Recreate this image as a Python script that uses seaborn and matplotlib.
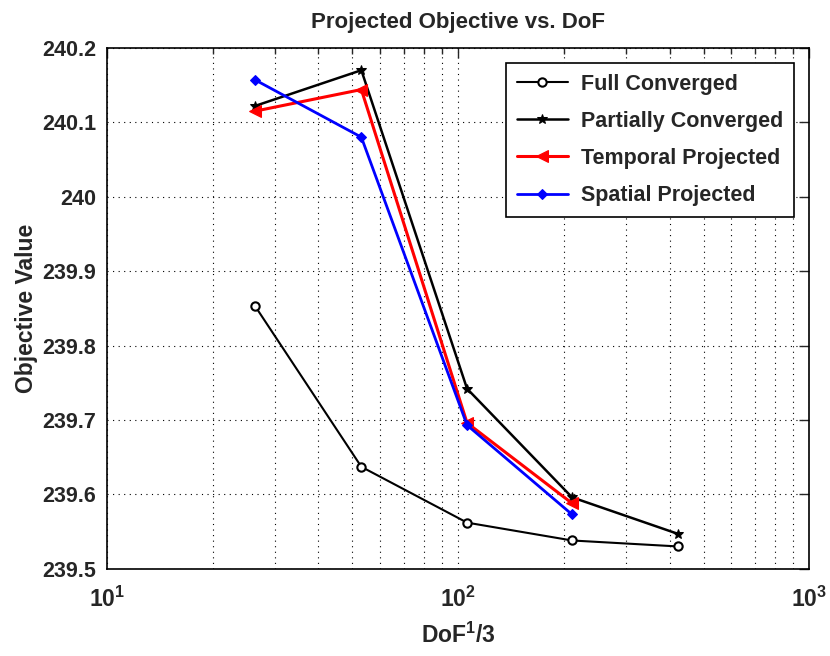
import numpy as np
import pandas as pd
import matplotlib
matplotlib.use('Agg')
import matplotlib.pyplot as plt
import seaborn as sns
from matplotlib.ticker import FuncFormatter, LogLocator

# values
dof = [26.4, 53, 106, 211, 422]
full_conv = [239.853, 239.637, 239.562, 239.538, 239.530]
part_conv = [240.122, 240.170, 239.742, 239.596, 239.547]
temporal = [240.115, 240.144, 239.696, 239.588]
spatial = [240.157, 240.080, 239.693, 239.573]

names = ['Full Converged', 'Partially Converged', 'Temporal Projected', 'Spatial Projected']
series = [full_conv, part_conv, temporal, spatial]

frames = []
for name, vals in zip(names, series):
    frames.append(pd.DataFrame({'DoF': dof[:len(vals)], 'Objective': vals, 'Series': name}))
data = pd.concat(frames, ignore_index=True)

sns.set_style('white')
plt.rcParams['font.family'] = ['Liberation Sans', 'DejaVu Sans']
plt.rcParams['font.weight'] = 'bold'
plt.rcParams['mathtext.fontset'] = 'custom'
plt.rcParams['mathtext.rm'] = 'Liberation Sans:bold'
plt.rcParams['mathtext.bf'] = 'Liberation Sans:bold'
plt.rcParams['mathtext.default'] = 'bf'

fig, ax = plt.subplots(figsize=(8.3, 6.56), dpi=100)
fig.subplots_adjust(left=0.129, right=0.975, top=0.927, bottom=0.133)

palette = {'Full Converged': 'black', 'Partially Converged': 'black',
           'Temporal Projected': 'red', 'Spatial Projected': 'blue'}
markers = {'Full Converged': 'o', 'Partially Converged': '*',
           'Temporal Projected': '<', 'Spatial Projected': 'D'}

sns.lineplot(data=data, x='DoF', y='Objective', hue='Series', style='Series',
             hue_order=names, style_order=names, palette=palette, markers=markers,
             dashes=False, sort=False, ax=ax, legend=False)

# per-series styling (MATLAB look)
widths = [1.5, 1.8, 2.2, 2.0]
sizes = [6, 7, 8, 5]
for line, w, s, name in zip(ax.lines, widths, sizes, names):
    line.set_linewidth(w)
    line.set_markersize(s)
    line.set_markeredgecolor(palette[name])
    if name == 'Full Converged':
        line.set_markerfacecolor('white')
        line.set_markeredgewidth(1.5)
    else:
        line.set_markerfacecolor(palette[name])
    line.set_label(name)

ax.set_xscale('log')
ax.set_xlim(10, 1000)
ax.set_ylim(239.5, 240.2)
ax.set_yticks(np.arange(239.5, 240.21, 0.1))
ax.yaxis.set_major_formatter(FuncFormatter(lambda v, p: '%g' % round(v, 1)))
ax.xaxis.set_major_locator(LogLocator(base=10))
ax.xaxis.set_minor_locator(LogLocator(base=10, subs=np.arange(2, 10)))

ax.grid(True, which='major', axis='both', color='black', linestyle=(0, (1, 4)), linewidth=0.8)
ax.grid(True, which='minor', axis='x', color='black', linestyle=(0, (1, 4)), linewidth=0.8)

ax.tick_params(which='both', direction='in', top=True, right=True, width=1)
ax.tick_params(which='major', length=7)
ax.tick_params(which='minor', length=4)
ax.tick_params(axis='y', labelsize=15.5, pad=8)
ax.tick_params(axis='x', labelsize=16.5, pad=13)
for sp in ax.spines.values():
    sp.set_color('black')
    sp.set_linewidth(1.2)

ax.set_title('Projected Objective vs. DoF', fontsize=16, fontweight='bold', pad=14)
ax.set_xlabel('DoF$^{1}$/3', fontsize=16.5, fontweight='bold', labelpad=8)
ax.set_ylabel('Objective Value', fontsize=16.5, fontweight='bold', labelpad=3)

leg = ax.legend(loc='upper right', fontsize=15.5, frameon=True, fancybox=False,
                edgecolor='black', framealpha=1, handlelength=2.4, labelspacing=0.75,
                borderaxespad=0.7, borderpad=0.5, handletextpad=0.6)
leg.get_frame().set_linewidth(1.2)

fig.savefig('out.png', dpi=100)
